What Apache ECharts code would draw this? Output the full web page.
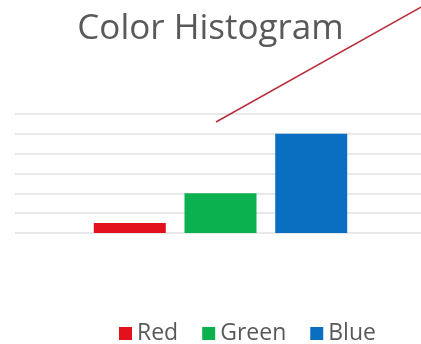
<!DOCTYPE html>
<html><head><meta charset="utf-8">
<script src="https://cdn.jsdelivr.net/npm/echarts@6/dist/echarts.min.js"></script>
<style>html,body{margin:0;padding:0;background:#fff}#c{width:421px;height:344px}</style>
</head><body><div id="c"></div>
<script>
const titleText = 'Color Histogram';
const categories = [''];
const seriesNames = ['Red', 'Green', 'Blue'];
const seriesValues = [[0.5], [2], [5]];
const seriesColors = ['#e3101e', '#0bb04f', '#0a6fc0'];
const yMin = 0, yMax = 6, yStep = 1;

const chart = echarts.init(document.getElementById('c'));
chart.setOption({
  animation: false,
  title: {
    text: titleText, left: 'center', top: 7,
    textStyle: { fontFamily: 'Open Sans', fontSize: 35, fontWeight: 'normal', color: '#595959' }
  },
  legend: {
    data: seriesNames, top: 317, left: 114, itemWidth: 13, itemHeight: 13, itemGap: 24,
    icon: 'rect',
    textStyle: { fontFamily: 'Open Sans', fontSize: 23, color: '#595959' }
  },
  grid: [
    { left: 15, right: 0, top: 114, bottom: 111 },
    { left: 20, right: 0, top: 114, bottom: 111 }
  ],
  xAxis: [
    { gridIndex: 0, type: 'category', data: categories, show: false },
    { gridIndex: 1, type: 'category', data: categories, axisLine: { show: false }, axisTick: { show: false }, axisLabel: { show: false } }
  ],
  yAxis: [
    { gridIndex: 0, type: 'value', min: yMin, max: yMax, interval: yStep, axisLabel: { show: false },
      axisLine: { show: false }, axisTick: { show: false },
      splitLine: { lineStyle: { color: '#e0e0e0', width: 1.5 } } },
    { gridIndex: 1, type: 'value', min: yMin, max: yMax, interval: yStep, axisLabel: { show: false },
      axisLine: { show: false }, axisTick: { show: false }, splitLine: { show: false } }
  ],
  series: seriesNames.map((n, i) => ({
    name: n, type: 'bar', xAxisIndex: 1, yAxisIndex: 1, data: seriesValues[i], barWidth: 72, barGap: '26%',
    itemStyle: { color: seriesColors[i] }
  })),
  graphic: [{
    type: 'line', shape: { x1: 216, y1: 122, x2: 423, y2: 6 },
    style: { stroke: '#b8303c', lineWidth: 1.5 }, z: 10
  }]
});
</script></body></html>
